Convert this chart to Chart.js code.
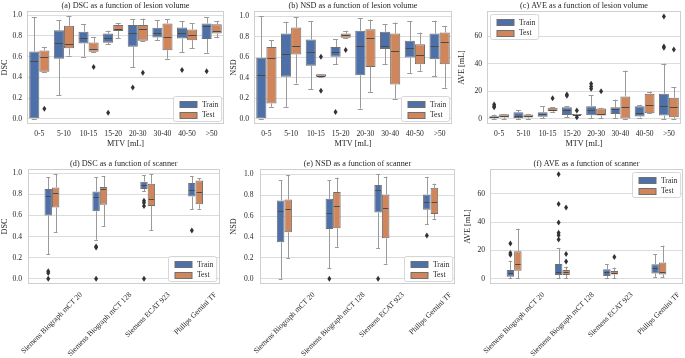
<!DOCTYPE html>
<html><head><meta charset="utf-8">
<script src="https://cdn.jsdelivr.net/npm/chart.js@4/dist/chart.umd.min.js"></script>
<style>
html,body{margin:0;padding:0;background:#fff;}
body{width:685px;height:358px;position:relative;overflow:hidden;}
canvas{position:absolute;}
</style></head><body>
<canvas id="pa"></canvas><canvas id="pb"></canvas><canvas id="pc"></canvas>
<canvas id="pd"></canvas><canvas id="pe"></canvas><canvas id="pf"></canvas>
<script>
// ---------- categories ----------
const volumeBins = ['0-5','5-10','10-15','15-20','20-30','30-40','40-50','>50'];
const scannerNames = ['Siemens Biograph mCT 20','Siemens Biograph mCT 128','Siemens ECAT 923','Philips Gemini TF'];
const seriesNames = ['Train','Test'];

// ---------- box statistics: [whisker low, Q1, median, Q3, whisker high] ----------
// (a) DSC vs lesion volume
const dscVolTrain = [[0,0,0.556,0.65,0.98],[0.23,0.58,0.736,0.855,0.95],[0.60,0.727,0.78,0.84,0.91],[0.717,0.733,0.78,0.823,0.85],[0.50,0.695,0.823,0.904,0.96],[0.76,0.785,0.83,0.878,0.95],[0.64,0.775,0.83,0.88,0.945],[0.637,0.77,0.895,0.92,0.98]];
const dscVolTrainOut = [[],[],[],[0.058],[0.302],[],[0.47],[0.46]];
const dscVolTest = [[0.455,0.455,0.60,0.66,0.695],[0.61,0.68,0.72,0.897,0.99],[0.645,0.646,0.67,0.736,0.79],[0.775,0.846,0.87,0.904,0.92],[0.75,0.752,0.862,0.904,0.967],[0.58,0.662,0.79,0.92,0.96],[0.68,0.759,0.813,0.862,0.92],[0.785,0.823,0.85,0.913,0.945]];
const dscVolTestOut = [[0.096],[],[0.50],[],[0.444],[],[],[]];
// (b) NSD vs lesion volume
const nsdVolTrain = [[0,0,0.425,0.594,1.0],[0.117,0.41,0.636,0.83,0.945],[0.286,0.516,0.653,0.773,0.95],[0.53,0.604,0.653,0.70,0.773],[0.10,0.425,0.71,0.857,0.977],[0.53,0.68,0.71,0.847,0.92],[0.448,0.597,0.685,0.76,0.95],[0.415,0.58,0.708,0.83,0.955]];
const nsdVolTrainOut = [[],[],[],[0.068],[],[],[],[]];
const nsdVolTest = [[0.117,0.15,0.594,0.70,0.766],[0.344,0.627,0.71,0.89,0.99],[0.41,0.41,0.422,0.435,0.435],[0.79,0.79,0.815,0.83,0.857],[0.263,0.506,0.79,0.873,0.967],[0.198,0.334,0.662,0.83,0.938],[0.467,0.532,0.62,0.727,0.84],[0.305,0.532,0.75,0.84,0.906]];
const nsdVolTestOut = [[],[],[0.604,0.273],[0.67],[],[],[],[]];
// (c) AVE vs lesion volume
const aveVolTrain = [[0,0.5,1.2,1.9,3.1],[0,0.7,2.4,4.8,6.5],[0.5,1.5,3.6,4.8,9.0],[1.2,2.9,6.5,8.5,9.0],[0.7,2.7,6.5,9.2,17],[0.7,3.6,7.3,8.5,14],[1.0,1.7,4.1,9.2,10.2],[0,2.4,9.6,18.2,40]];
const aveVolTrainOut = [[10.4,9.2,8.4],[],[],[17.7,16.7],[25.4,23.5,21.8],[],[],[74.3,52.5,51.5]];
const aveVolTest = [[0,1.0,2.4,3.4,3.6],[0.2,1.0,2.2,3.1,3.6],[4.8,5.6,6.8,8.0,8.5],[2.7,2.7,3.1,3.6,3.6],[0.7,2.4,3.6,7.5,8.0],[0,0.2,8.4,16.2,35],[4.1,4.1,10.4,18.2,19.8],[0.2,1.2,8.4,15.3,23]];
const aveVolTestOut = [[],[],[15],[6.1,1.2],[20],[],[],[50.3]];
// (d) DSC vs scanner
const dscScanTrain = [[0.23,0.60,0.78,0.85,0.96],[0.37,0.64,0.77,0.827,0.96],[0.83,0.85,0.89,0.92,0.98],[0.657,0.78,0.84,0.907,0.97]];
const dscScanTrainOut = [[0.07,0.055,0],[0.305,0.295,0],[0.74,0.72,0.69,0],[0.458]];
const dscScanTest = [[0.44,0.675,0.81,0.865,0.99],[0.50,0.70,0.85,0.87,0.97],[0.46,0.69,0.76,0.90,0.99],[0.663,0.705,0.82,0.93,0.95]];
const dscScanTestOut = [[],[],[],[]];
// (e) NSD vs scanner
const nsdScanTrain = [[0,0.35,0.65,0.75,0.945],[0.103,0.477,0.63,0.765,0.945],[0.29,0.635,0.85,0.897,1.0],[0.52,0.66,0.735,0.806,0.975]];
const nsdScanTrainOut = [[],[0],[0],[0.413]];
const nsdScanTest = [[0.2,0.445,0.668,0.758,0.99],[0.306,0.484,0.70,0.83,0.968],[0.145,0.387,0.677,0.806,0.977],[0.574,0.62,0.735,0.87,0.91]];
const nsdScanTestOut = [[],[],[],[]];
// (f) AVE vs scanner
const aveScanTrain = [[0.5,1.4,3.8,6.2,12.7],[0.5,2.6,5.0,10.5,21.8],[0.5,1.9,4.8,6.7,10.3],[1.4,3.8,7.9,10.3,17.5]];
const aveScanTrainOut = [[24.9,18.2,17.0],[73.9,52.8,39.7,32.5,30.8,27.7],[],[]];
const aveScanTest = [[0.5,5.7,10.3,19.4,35.4],[0.5,2.6,4.5,6.2,8.6],[0.5,3.1,4.3,5.5,7.9],[1.0,3.1,4.5,11.5,23.4]];
const aveScanTestOut = [[],[50.4,17.5,12.2],[15.3],[]];

// ---------- style ----------
const FF = '"Liberation Serif", "Times New Roman", serif';
const FS_LAB = 8.2;   // panel titles, axis titles
const FS_TICK = 7.6;  // tick labels, legend
const TXT = '#262626';
const GRID = '#dcdcdc';
const FRAME = '#cfcfcf';
const FILLS = ['#4e70a8', '#d0855b'];
const EDGE = '#6f6f6f';
const WHISK = '#9a9a9a';
const MED = '#4a4a4a';
const FLIER = '#333333';

function crisp(v){ return Math.round(v) + 0.5; }

const boxPlugin = {
  id: 'boxDeco',
  afterDatasetsDraw(chart) {
    const ctx = chart.ctx, ys = chart.scales.y;
    ctx.save();
    ctx.lineWidth = 1;
    chart.data.datasets.forEach((ds, di) => {
      const meta = chart.getDatasetMeta(di);
      meta.data.forEach((bar, i) => {
        const st = ds.stats[i];
        const x = crisp(bar.x), w = bar.width;
        const yLo = ys.getPixelForValue(st[0]), yQ1 = ys.getPixelForValue(st[1]);
        const yMed = ys.getPixelForValue(st[2]), yQ3 = ys.getPixelForValue(st[3]);
        const yHi = ys.getPixelForValue(st[4]);
        ctx.strokeStyle = WHISK;
        ctx.beginPath();
        ctx.moveTo(x, yQ3); ctx.lineTo(x, yHi);
        ctx.moveTo(x, yQ1); ctx.lineTo(x, yLo);
        ctx.moveTo(bar.x - w / 4, crisp(yHi)); ctx.lineTo(bar.x + w / 4, crisp(yHi));
        ctx.moveTo(bar.x - w / 4, crisp(yLo)); ctx.lineTo(bar.x + w / 4, crisp(yLo));
        ctx.stroke();
        if (st[3] - st[1] < 1e-9) {
          ctx.strokeStyle = EDGE;
          ctx.beginPath(); ctx.moveTo(bar.x - w/2, crisp(yQ1)); ctx.lineTo(bar.x + w/2, crisp(yQ1)); ctx.stroke();
        }
        ctx.strokeStyle = MED;
        ctx.beginPath();
        ctx.moveTo(bar.x - w / 2 + 1, crisp(yMed)); ctx.lineTo(bar.x + w / 2 - 1, crisp(yMed));
        ctx.stroke();
        ctx.fillStyle = FLIER;
        (ds.outliers[i] || []).forEach(v => {
          const py = ys.getPixelForValue(v);
          ctx.beginPath();
          ctx.moveTo(bar.x, py - 3); ctx.lineTo(bar.x + 2, py);
          ctx.lineTo(bar.x, py + 3); ctx.lineTo(bar.x - 2, py);
          ctx.closePath(); ctx.fill();
        });
      });
    });
    ctx.restore();
  },
  afterDraw(chart, args, opts) {
    const ctx = chart.ctx, ca = chart.chartArea;
    ctx.save();
    // frame
    ctx.strokeStyle = FRAME; ctx.lineWidth = 1;
    ctx.strokeRect(Math.round(ca.left) + 0.5, Math.round(ca.top) + 0.5, Math.round(ca.right - ca.left) - 1, Math.round(ca.bottom - ca.top) - 1);
    // panel title
    ctx.font = FS_LAB + 'px ' + FF;
    ctx.fillStyle = TXT;
    ctx.textAlign = 'center'; ctx.textBaseline = 'middle';
    ctx.fillText(opts.title, (ca.left + ca.right) / 2, ca.top - 5.5);
    // rotated category labels
    ctx.font = FS_TICK + 'px ' + FF;
    if (opts.rotated) {
      const xs = chart.scales.x;
      chart.data.labels.forEach((lab, i) => {
        const L = ctx.measureText(lab).width;
        const ext = (L + FS_TICK) * Math.SQRT1_2;
        const cx = xs.getPixelForValue(i);
        const cy = ca.bottom + 7 + ext / 2;
        ctx.save();
        ctx.translate(cx, cy); ctx.rotate(-Math.PI / 4);
        ctx.fillText(lab, 0, 0);
        ctx.restore();
      });
    }
    // legend
    const tw = Math.max(...seriesNames.map(s => ctx.measureText(s).width));
    const lw = 28 + tw + 4, lh = 25, m = 3;
    let lx, ly;
    if (opts.legend === 'lr') { lx = ca.right - m - lw; ly = ca.bottom - m - lh; }
    else if (opts.legend === 'ul') { lx = ca.left + m; ly = ca.top + m; }
    else { lx = ca.right - m - lw; ly = ca.top + m; }
    lx = Math.round(lx) + 0.5; ly = Math.round(ly) + 0.5;
    ctx.fillStyle = 'rgba(255,255,255,0.85)';
    ctx.strokeStyle = '#d6d6d6';
    ctx.beginPath();
    if (ctx.roundRect) ctx.roundRect(lx, ly, lw, lh, 2); else ctx.rect(lx, ly, lw, lh);
    ctx.fill(); ctx.stroke();
    seriesNames.forEach((s, k) => {
      const cy = ly + 7.5 + k * 10.8;
      ctx.fillStyle = FILLS[k];
      ctx.fillRect(lx + 6.5, Math.round(cy - 3), 17, 6.5);
      ctx.strokeStyle = EDGE;
      ctx.strokeRect(lx + 6.5, Math.round(cy - 3) + 0.5, 17, 6);
      ctx.fillStyle = TXT;
      ctx.textAlign = 'left'; ctx.textBaseline = 'middle';
      ctx.fillText(s, lx + 28.5, cy + 0.5);
    });
    ctx.restore();
  }
};

function makePanel(p) {
  const cv = document.getElementById(p.id);
  cv.width = p.w; cv.height = p.h;
  cv.style.left = p.x + 'px'; cv.style.top = p.y + 'px';
  cv.style.width = p.w + 'px'; cv.style.height = p.h + 'px';
  const datasets = [[p.train, p.trainOut], [p.test, p.testOut]].map((s, k) => ({
    label: seriesNames[k],
    data: s[0].map(v => [v[1], v[3]]),
    stats: s[0], outliers: s[1],
    backgroundColor: FILLS[k], borderColor: EDGE, borderWidth: 1, borderSkipped: false,
    categoryPercentage: p.catPct, barPercentage: 1
  }));
  const tickFont = { family: FF, size: FS_TICK };
  const labFont = { family: FF, size: FS_LAB };
  new Chart(cv, {
    type: 'bar',
    data: { labels: p.labels, datasets },
    plugins: [boxPlugin],
    options: {
      responsive: false, animation: false, events: [], devicePixelRatio: 1,
      layout: { padding: { top: p.padTop, right: p.padRight, left: 0, bottom: 0 } },
      plugins: {
        legend: { display: false }, tooltip: { enabled: false },
        boxDeco: { title: p.title, rotated: p.rotated, legend: p.legend }
      },
      scales: {
        x: {
          type: 'category', offset: true,
          grid: { display: false, drawTicks: false }, border: { display: false },
          ticks: { display: !p.rotated, color: TXT, font: tickFont, padding: 5, maxRotation: 0, minRotation: 0, autoSkip: false },
          title: { display: !!p.xTitle, text: p.xTitle || '', color: TXT, font: labFont, padding: { top: 0, bottom: 3 } },
          afterFit: s => { s.height = p.bh; }
        },
        y: {
          min: p.ymin, max: p.ymax,
          grid: { color: GRID, lineWidth: 1, drawTicks: false }, border: { display: false },
          ticks: { stepSize: p.step, includeBounds: false, color: TXT, font: tickFont, padding: p.tickPad,
                   callback: v => p.step < 1 ? Number(v).toFixed(1) : String(Math.round(v)) },
          title: { display: true, text: p.yTitle, color: TXT, font: { family: FF, size: FS_LAB, lineHeight: 1 }, padding: { top: p.yTitlePad, bottom: 0 } },
          afterFit: s => { s.width = p.lw; }
        }
      }
    }
  });
}

const topCommon = { y: 0, h: 152, padTop: 11, bh: 28, labels: volumeBins, catPct: 0.82, rotated: false, xTitle: 'MTV [mL]' };
const botCommon = { y: 158, h: 200, padTop: 11, bh: 74, labels: scannerNames, catPct: 0.31, rotated: true, xTitle: '' };

makePanel(Object.assign({}, topCommon, { id: 'pa', x: 0, w: 226, lw: 27, padRight: 2, tickPad: 5, yTitlePad: 0.5,
  title: '(a) DSC as a function of lesion volume', yTitle: 'DSC', ymin: -0.05, ymax: 1.04, step: 0.2, legend: 'lr',
  train: dscVolTrain, trainOut: dscVolTrainOut, test: dscVolTest, testOut: dscVolTestOut }));
makePanel(Object.assign({}, topCommon, { id: 'pb', x: 228, w: 226, lw: 26, padRight: 2, tickPad: 5, yTitlePad: 1.5,
  title: '(b) NSD as a function of lesion volume', yTitle: 'NSD', ymin: -0.05, ymax: 1.05, step: 0.2, legend: 'lr',
  train: nsdVolTrain, trainOut: nsdVolTrainOut, test: nsdVolTest, testOut: nsdVolTestOut }));
makePanel(Object.assign({}, topCommon, { id: 'pc', x: 455, w: 230, lw: 32, padRight: 4, tickPad: 5, yTitlePad: 3,
  title: '(c) AVE as a function of lesion volume', yTitle: 'AVE [mL]', ymin: -3.7, ymax: 78.2, step: 20, legend: 'ul',
  train: aveVolTrain, trainOut: aveVolTrainOut, test: aveVolTest, testOut: aveVolTestOut }));
makePanel(Object.assign({}, botCommon, { id: 'pd', x: 0, w: 226, lw: 28, padRight: 6.5, tickPad: 6, yTitlePad: 0.5,
  title: '(d) DSC as a function of scanner', yTitle: 'DSC', ymin: -0.05, ymax: 1.04, step: 0.2, legend: 'lr',
  train: dscScanTrain, trainOut: dscScanTrainOut, test: dscScanTest, testOut: dscScanTestOut }));
makePanel(Object.assign({}, botCommon, { id: 'pe', x: 228, w: 228, lw: 32, padRight: 1, tickPad: 6.5, yTitlePad: 1.5,
  title: '(e) NSD as a function of scanner', yTitle: 'NSD', ymin: -0.05, ymax: 1.05, step: 0.2, legend: 'lr',
  train: nsdScanTrain, trainOut: nsdScanTrainOut, test: nsdScanTest, testOut: nsdScanTestOut }));
makePanel(Object.assign({}, botCommon, { id: 'pf', x: 455, w: 230, lw: 35, padRight: 2, tickPad: 5, yTitlePad: 9,
  title: '(f) AVE as a function of scanner', yTitle: 'AVE [mL]', ymin: -3.7, ymax: 77.6, step: 20, legend: 'ur',
  train: aveScanTrain, trainOut: aveScanTrainOut, test: aveScanTest, testOut: aveScanTestOut }));
</script>
</body></html>
